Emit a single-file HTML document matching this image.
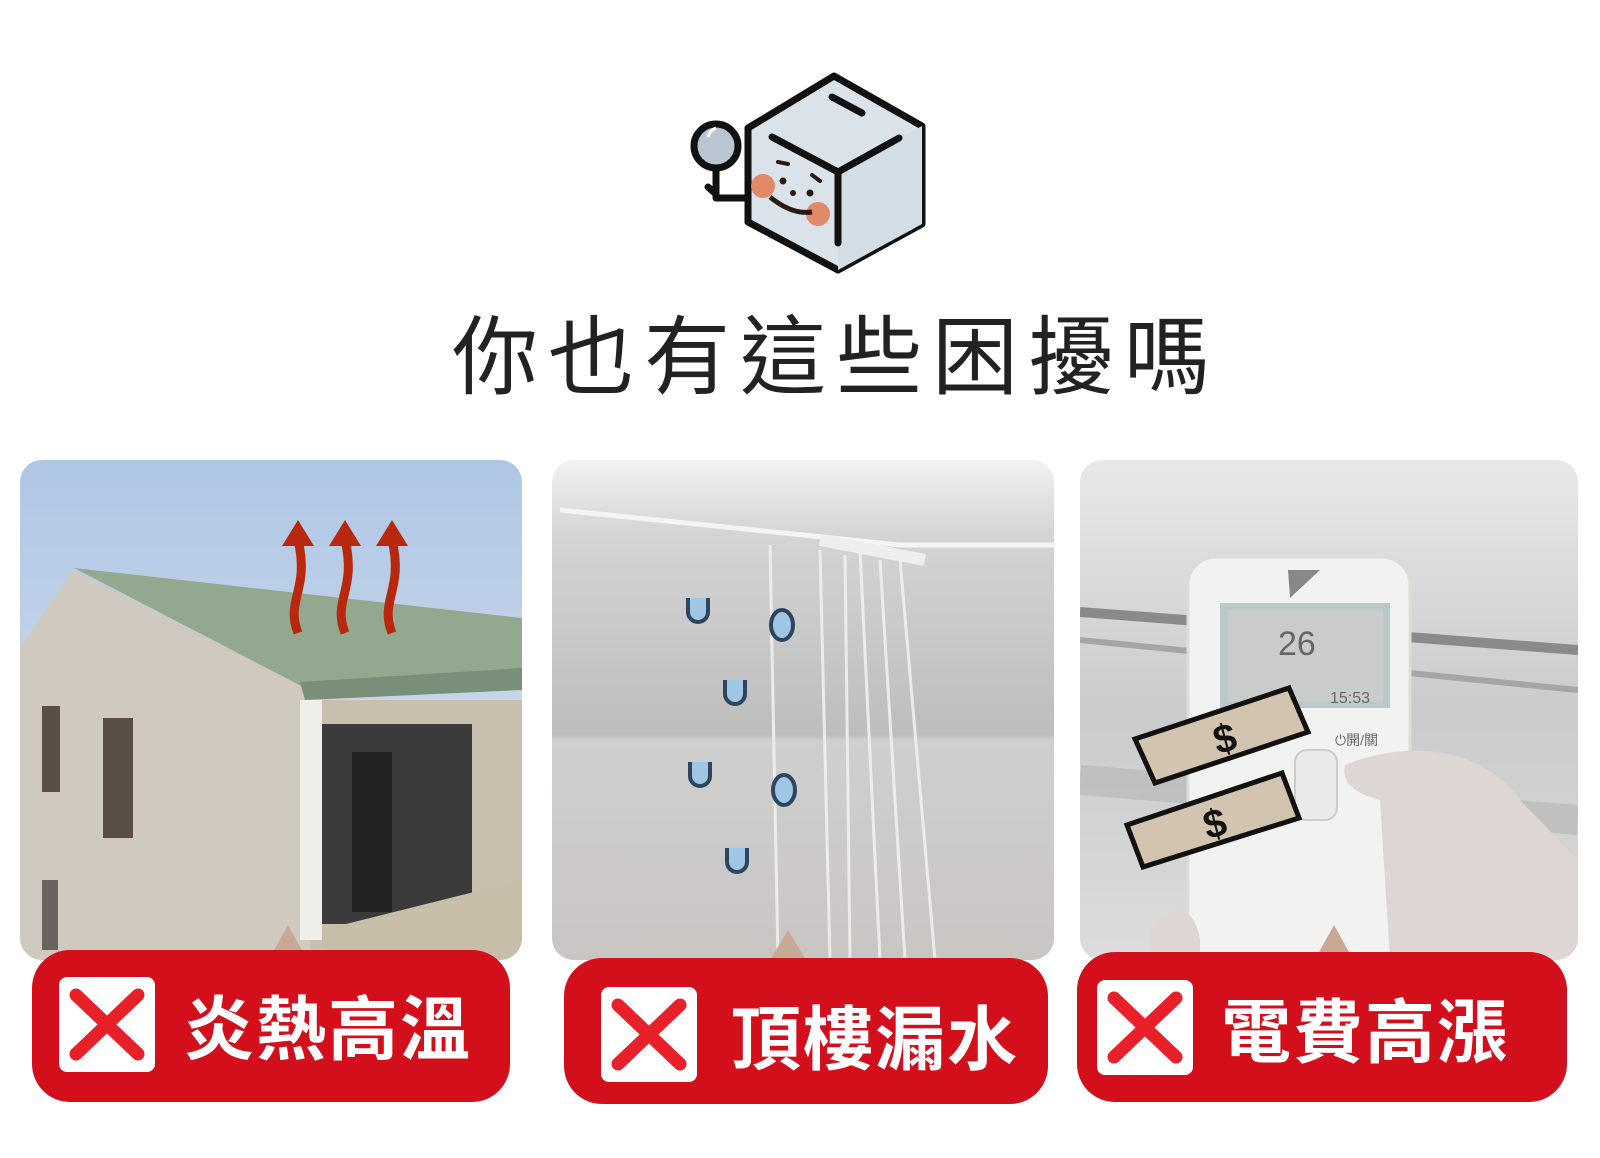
<!DOCTYPE html>
<html><head><meta charset="utf-8"><style>
html,body{margin:0;padding:0;background:#fff;width:1600px;height:1158px;overflow:hidden}
svg{display:block}
.t{font-family:"Liberation Sans","Noto Sans CJK TC",sans-serif}
</style></head><body>
<svg width="1600" height="1158" viewBox="0 0 1600 1158" xmlns="http://www.w3.org/2000/svg">
<defs>
<linearGradient id="sky" x1="0" y1="0" x2="0" y2="1"><stop offset="0" stop-color="#aec6e6"/><stop offset="1" stop-color="#dfe5ea"/></linearGradient>
<linearGradient id="mid" x1="0" y1="0" x2="0" y2="1"><stop offset="0" stop-color="#f2f2f2"/><stop offset="0.15" stop-color="#d4d4d4"/><stop offset="0.55" stop-color="#bdbdbd"/><stop offset="0.56" stop-color="#cfcfcf"/><stop offset="1" stop-color="#c9c5c3"/></linearGradient>
<linearGradient id="rgt" x1="0" y1="0" x2="0" y2="1"><stop offset="0" stop-color="#e6e8e9"/><stop offset="0.5" stop-color="#c9cbcc"/><stop offset="1" stop-color="#dcdcdc"/></linearGradient>
<clipPath id="c1"><rect x="20" y="460" width="502" height="500" rx="22"/></clipPath>
<clipPath id="c2"><rect x="552" y="460" width="502" height="500" rx="22"/></clipPath>
<clipPath id="c3"><rect x="1080" y="460" width="498" height="500" rx="22"/></clipPath>
</defs>

<!-- icon -->
<g stroke="#111" stroke-width="7" stroke-linejoin="round" stroke-linecap="round">
<polygon points="748,128 834,76 922,126 922,224 838,270 748,222" fill="#dbe3ea"/>
<polygon points="838,172 922,126 922,224 838,270" fill="#d2dde6" stroke="none"/>
<path d="M772,137 L838,172 L899,138 M838,172 L838,243 M832,97 L862,113" fill="none"/>
<circle cx="716" cy="146" r="22" fill="#b9c6d1"/>
<path d="M716,168 L716,198 L748,198 M708,187 L716,194" fill="none"/>
</g>
<path d="M708,137 Q710,130 716,128" stroke="#fff" stroke-width="3" fill="none"/>
<circle cx="763" cy="186" r="12" fill="#e08a6a"/>
<circle cx="818" cy="214" r="12" fill="#e08a6a"/>
<path d="M770,197 Q792,215 812,212" stroke="#2a1a14" stroke-width="5" fill="none"/>
<circle cx="783" cy="181" r="3.5" fill="#2a1a14"/><circle cx="793" cy="193" r="3" fill="#2a1a14"/><circle cx="810" cy="193" r="3.5" fill="#2a1a14"/>
<path d="M778,162 L788,164 M812,175 L820,181" stroke="#2a1a14" stroke-width="4" stroke-linecap="round"/>

<!-- title -->
<text class="t" x="836" y="387" text-anchor="middle" font-size="86" fill="#222" letter-spacing="10">你也有這些困擾嗎</text>

<!-- card1 -->
<g clip-path="url(#c1)">
<rect x="20" y="460" width="502" height="500" fill="url(#sky)"/>
<polygon points="20,648 74,570 310,690 310,960 20,960" fill="#cfc9bf"/>
<polygon points="74,568 522,618 522,670 305,688" fill="#93a98f"/>
<polygon points="300,682 522,668 522,690 305,700" fill="#7b8e79"/>
<rect x="310" y="700" width="212" height="260" fill="#c8bfae"/>
<rect x="322" y="724" width="150" height="200" fill="#3b3b3b"/>
<rect x="352" y="752" width="40" height="160" fill="#222"/>
<rect x="300" y="700" width="22" height="240" fill="#eeeeea"/>
<polygon points="322,930 522,880 522,960 322,960" fill="#c7bda9"/>
<rect x="42" y="706" width="18" height="86" fill="#5a4d45"/>
<rect x="103" y="718" width="30" height="120" fill="#5a4d45"/>
<rect x="42" y="880" width="16" height="70" fill="#6a625c"/>
<g fill="none" stroke="#b8280f" stroke-width="9">
<path d="M298,633 C285,600 310,590 298,540"/><path d="M345,633 C332,600 357,590 345,540"/><path d="M392,633 C379,600 404,590 392,540"/>
</g>
<g fill="#b8280f"><polygon points="282,546 298,520 314,546"/><polygon points="329,546 345,520 361,546"/><polygon points="376,546 392,520 408,546"/></g>
</g>

<!-- card2 -->
<g clip-path="url(#c2)">
<rect x="552" y="460" width="502" height="500" fill="url(#mid)"/>
<path d="M560,510 L900,545 L1054,545" stroke="#f4f4f4" stroke-width="5" fill="none"/>
<path d="M820,540 L925,560" stroke="#eee" stroke-width="12"/>
<g stroke="#f0f0f0" stroke-width="3" fill="none" opacity="0.9">
<path d="M770,545 L778,960"/><path d="M820,550 L830,960"/><path d="M860,550 L880,960"/><path d="M880,560 L905,960"/><path d="M845,555 L850,960"/><path d="M900,560 L935,960"/>
</g>
<g fill="#9fc6e4" stroke="#2e4560" stroke-width="4">
<path d="M688,598 L688,612 A10,10 0 0 0 708,612 L708,598"/>
<path d="M725,680 L725,694 A10,10 0 0 0 745,694 L745,680"/>
<path d="M690,762 L690,776 A10,10 0 0 0 710,776 L710,762"/>
<path d="M727,848 L727,862 A10,10 0 0 0 747,862 L747,848"/>
<ellipse cx="782" cy="625" rx="11" ry="15"/>
<ellipse cx="784" cy="790" rx="11" ry="15"/>
</g>
</g>

<!-- card3 -->
<g clip-path="url(#c3)">
<rect x="1080" y="460" width="498" height="500" fill="url(#rgt)"/>
<path d="M1080,612 L1578,650" stroke="#8a8a8a" stroke-width="10"/>
<path d="M1080,640 L1578,690" stroke="#a5a5a5" stroke-width="6"/>
<path d="M1080,780 L1578,820" stroke="#b5b5b5" stroke-width="30" opacity="0.6"/>
<rect x="1188" y="557" width="222" height="420" rx="28" fill="#f2f2f0" stroke="#dcdcd8" stroke-width="3"/>
<rect x="1220" y="603" width="170" height="105" fill="#b9c9c9"/>
<rect x="1228" y="610" width="155" height="92" fill="#c9cccb"/>
<text class="t" x="1278" y="655" font-size="34" fill="#666">26</text>
<text class="t" x="1330" y="703" font-size="16" fill="#666">15:53</text>
<polygon points="1288,570 1320,570 1290,598" fill="#888"/>
<rect x="1295" y="750" width="42" height="70" rx="12" fill="#eaeaea" stroke="#ccc" stroke-width="2"/>
<text class="t" x="1335" y="745" font-size="14" fill="#666">⏻開/關</text>
<path d="M1345,765 C1420,735 1490,755 1520,800 L1578,860 L1578,960 L1390,960 L1380,800 C1360,795 1340,785 1345,765 Z" fill="#ddd6d2"/>
<path d="M1150,930 C1170,900 1195,905 1200,940 L1200,960 L1150,960 Z" fill="#ddd6d2"/>
<g stroke="#111" stroke-width="5" fill="#d2c4ae">
<polygon points="1135,739 1289,688 1308,732 1155,783"/>
<polygon points="1127,825 1282,773 1299,818 1143,867"/>
</g>
<text class="t" x="1215" y="755" font-size="40" font-weight="bold" fill="#111" transform="rotate(-15 1215 745)">$</text>
<text class="t" x="1205" y="840" font-size="40" font-weight="bold" fill="#111" transform="rotate(-15 1205 830)">$</text>
</g>

<!-- pointers -->
<polygon points="272,954 288,925 304,954" fill="#c9a896"/>
<polygon points="770,960 788,930 806,960" fill="#c9a896"/>
<polygon points="1318,954 1334,925 1350,954" fill="#c9a896"/>

<!-- labels -->
<g fill="#d20f1a">
<rect x="32" y="950" width="478" height="152" rx="38"/>
<rect x="564" y="958" width="484" height="146" rx="38"/>
<rect x="1077" y="952" width="490" height="150" rx="38"/>
</g>
<g fill="#fff">
<rect x="59" y="977" width="96" height="95" rx="8"/>
<rect x="601" y="987" width="96" height="95" rx="8"/>
<rect x="1097" y="980" width="96" height="95" rx="8"/>
</g>
<g stroke="#e8202a" stroke-width="13" stroke-linecap="round">
<path d="M76,995 L138,1054 M138,995 L76,1054"/>
<path d="M618,1005 L680,1064 M680,1005 L618,1064"/>
<path d="M1114,998 L1176,1057 M1176,998 L1114,1057"/>
</g>
<g class="t" fill="#fff" font-size="70" font-weight="bold" letter-spacing="2">
<text x="184" y="1054">炎熱高溫</text>
<text x="731" y="1064">頂樓漏水</text>
<text x="1221" y="1057">電費高漲</text>
</g>
</svg>
</body></html>
